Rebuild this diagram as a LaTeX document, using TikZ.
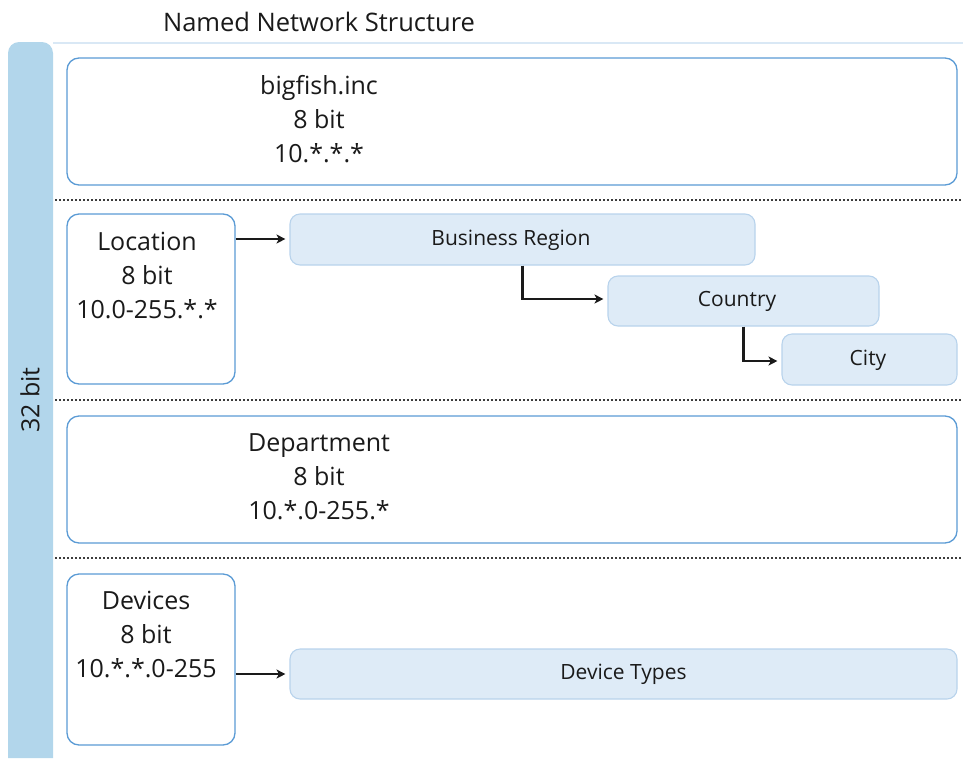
\documentclass[tikz,border=0pt]{standalone}
\usepackage{fontspec}
\setmainfont{Open Sans}
\usetikzlibrary{arrows.meta}
\definecolor{barblue}{HTML}{B2D6EB}
\definecolor{topline}{HTML}{D9E8F5}
\definecolor{boxline}{HTML}{5B9BD5}
\definecolor{lightfill}{HTML}{DEEBF7}
\definecolor{lightline}{HTML}{B8D3EC}
\definecolor{ink}{HTML}{1A1A1A}
\tikzset{
  bigbox/.style={draw=boxline, line width=1.3pt, rounded corners=12pt, fill=white, inner sep=0pt},
  subbox/.style={draw=lightline, line width=1.1pt, rounded corners=10pt, fill=lightfill, inner sep=0pt, text=ink,
    font=\fontsize{21}{24}\selectfont},
  subtext/.style={text=ink, font=\fontsize{21}{24}\selectfont, inner sep=0pt},
  maintext/.style={align=center, text=ink, font=\fontsize{25}{34}\selectfont, inner sep=0pt},
  sep/.style={draw=ink!85, line width=1.1pt, dash pattern=on 1.6pt off 2.4pt},
  arr/.style={draw=ink, line width=2.4pt, shorten >=4pt, -{Stealth[length=9pt,width=9pt,inset=2.5pt]}},
  elbow/.style={arr, rounded corners=0pt}
}
\begin{document}
\begin{tikzpicture}[x=1pt,y=-1pt]
\useasboundingbox (0,0) rectangle (963,758);
% title
\node[text=ink, font=\fontsize{25.5}{28}\selectfont, inner sep=0pt] (title) at (319,22) {Named Network Structure};
% bar
\fill[barblue] (8,758) {[rounded corners=11pt] -- (8,42) -- (53,42)} -- (53,758) -- cycle;
\draw[topline, line width=2.5pt] (53,43) -- (963,43);
\node[rotate=90, text=ink, font=\fontsize{25}{28}\selectfont, inner sep=0pt] (bar) at (30,400) {32 bit};
% separators
\draw[sep] (55,200) -- (963,200);
\draw[sep] (55,400) -- (963,400);
\draw[sep] (55,558) -- (963,558);
% big boxes
\node[bigbox, minimum width=890pt, minimum height=127pt] (org) at (512,121.5) {};
\node[maintext] (orgt) at (319,119) {bigfish.inc\\8 bit\\10.*.*.*};
\node[bigbox, minimum width=168pt, minimum height=170pt] (loc) at (151,299) {};
\node[maintext] (loct) at (147,275) {Location\\8 bit\\10.0-255.*.*};
\node[bigbox, minimum width=890pt, minimum height=127pt] (dep) at (512,479.5) {};
\node[maintext] (dept) at (319,477) {Department\\8 bit\\10.*.0-255.*};
\node[bigbox, minimum width=168pt, minimum height=171pt] (dev) at (151,659.5) {};
\node[maintext] (devt) at (146,634) {Devices\\8 bit\\10.*.*.0-255};
% sub boxes
\node[subbox, minimum width=465pt, minimum height=51pt] (br) at (522.5,239.5) {};
\node[subtext] (brt) at (511,240) {Business Region};
\node[subbox, minimum width=271pt, minimum height=50pt] (co) at (743.5,301) {};
\node[subtext] (cot) at (737,301) {Country};
\node[subbox, minimum width=175pt, minimum height=51pt] (ci) at (869.5,359.5) {};
\node[subtext] (cit) at (868,360) {City};
\node[subbox, minimum width=667pt, minimum height=50pt] (dt) at (623.5,674) {Device Types};
% connectors
\draw[arr] (loc.east |- 0,239) -- (br.west |- 0,239);
\draw[elbow] (br.south) |- (co.west |- 0,299);
\draw[elbow] (co.south) |- (ci.west |- 0,361);
\draw[arr] (dev.east |- dt.west) -- (dt.west);
\end{tikzpicture}
\end{document}
